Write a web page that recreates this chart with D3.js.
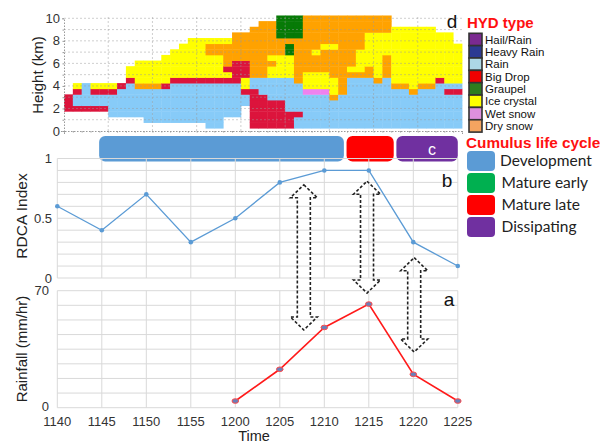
<!DOCTYPE html>
<html><head><meta charset="utf-8">
<script src="https://cdn.jsdelivr.net/npm/d3@7"></script>
<style>
body{margin:0;background:#fff;}
svg{display:block;font-family:"Liberation Sans",Arial,sans-serif;}
</style></head><body>
<svg id="chart" width="605" height="443"></svg>
<script>
// ---------------- data ----------------
const times = ["1140","1145","1150","1155","1200","1205","1210","1215","1220","1225"];
const rdcaIndex = [0.6, 0.4, 0.7, 0.3, 0.5, 0.8, 0.9, 0.9, 0.3, 0.1];
const rainTimes = ["1200","1205","1210","1215","1220","1225"];
const rainfall = [4, 23, 48, 62, 20, 4];
const heightTicks = [0, 2, 4, 6, 8, 10];
const rdcaTicks = [0, 0.5, 1];
const rainTicks = [0, 70];

// hydrometeor class of each 1-minute column, 0.5 km bins from 0 km (first char) to 10 km (last char)
// B rain, R big drop, Y ice crystal, O dry snow, G graupel, P wet snow, . none
const hydColumns = [
  "....RRR..............",
  "....RBBRY............",
  "....RBBBB............",
  "....RBBRY............",
  "....RBBRY............",
  "...BBBBRY............",
  "...BBBBBR............",
  "...BBBBBBRYY.........",
  "...BBBBBOYYYY........",
  "..BBBBBBOYYYY........",
  "..BBBBBBOYYYY........",
  "..BBBBBBRYYYYY.......",
  "..BBBBBBBRYYYYY......",
  "..BBBBBBBRYYYYYY.....",
  "..BBBBBBBRYYYYYYY....",
  "..BBBBBBBRYYYYYYY....",
  ".BBBBBBBBRYYYYOOY....",
  ".BBBBBBBBRYYYYOOY....",
  "...BBBBBBRYROOOOY....",
  "...BBBBBBRRRROOOOO...",
  ".....BBRYYRRROOOOO...",
  ".RRRRRRRBBOOOOOOOOO..",
  ".RRRRRRBBBOOOOOOOOOO.",
  ".RRRRRBBBBYYOYOOOOOO.",
  ".RRRRRBBBBYYYYOOOGGGG",
  ".RRRBBBBBBYYYYGGOGGGG",
  ".BBRBBBBBOOOOOOOOGGGG",
  ".BBBBBBPYYYOOOOOOOOOO",
  ".BBBBBBPYYYOOOYOOOOOO",
  ".BBBBBBPYYYOOOOYOOOOO",
  ".BBBBBOYYYOOOOOYOOOOO",
  ".BBBBBBOOOOOOOOOOOOOO",
  ".BBBBBBBBBOYOOOOOOOOO",
  ".BBBBBBBBBOYYYYOOOOOO",
  ".BBBBBBBBBOOYYYYYYOOO",
  ".BBBBBBBBOYYYYYYYYOOO",
  ".BBBBBBBBBOOOOYYYYOOO",
  ".BBBBBBBOYYYYYYYYYY..",
  ".BBBBBBBOYYYYYYYYYY..",
  ".BBBBBBOYYYYYYYYYYY..",
  ".BBBBBBBOYYYYYYYYYY..",
  ".BBBBBBBOYYYYYYYYYY..",
  ".BBBBBBBBRYYYYYYYY...",
  ".BBBBBBRBYYYYYYYYY...",
  ".BBBBBBRBYYYYYYY....."
];
const hydFill = {B:"#87CBF8", R:"#DC143C", Y:"#FFFF00", O:"#FFA200", G:"#067A06", P:"#EE82EE"};

const hydLegendNames = ["Hail/Rain","Heavy Rain","Rain","Big Drop","Graupel","Ice crystal","Wet snow","Dry snow"];
const hydLegendColors = ["#7B2A90","#2C3A92","#ADD8E6","#F00000","#2E7D1E","#FFFF00","#DD90DD","#F4A460"];

// life-cycle stages, minutes after 11:40
const stageNames = ["Development","Mature late","Dissipating"];
const stageStart = [4.7, 32.5, 38.1];
const stageEnd = [32.2, 37.8, 45.0];
const stageColors = ["#5B9BD5","#FF0000","#7030A0"];
const lifeLegendNames = ["Development","Mature early","Mature late","Dissipating"];
const lifeLegendColors = ["#5B9BD5","#00B050","#FF0000","#7030A0"];

// double arrows linking RDCA index and rainfall: minute, RDCA value at top, rainfall at bottom
const arrowMinute = [27.7, 34.8, 40.1];
const arrowTop = [0.78, 0.81, 0.17];
const arrowBottom = [46.5, 68.6, 33.3];

// ---------------- drawing ----------------
const svg = d3.select("#chart");

// panel d: hydrometeor cross-section
const nCols = hydColumns.length;
const xh = d3.scaleLinear().domain([0, nCols]).range([64, 462]);
const yh = d3.scaleLinear().domain([0, 10]).range([131, 18.3]);
const gd = svg.append("g");

hydColumns.forEach((col, c) => {
  col.split("").forEach((ch, k) => {
    if (ch === ".") return;
    const lo = Math.max(0, 0.5 * k - 0.25), hi = 0.5 * k + 0.25;
    gd.append("rect")
      .attr("x", xh(c)).attr("width", xh(c + 1) - xh(c) + 0.4)
      .attr("y", yh(hi)).attr("height", yh(lo) - yh(hi) + 0.4)
      .attr("fill", hydFill[ch]);
  });
});
// dotted grid over the cells
gd.selectAll(".hg").data(d3.range(1, 11)).join("line")
  .attr("x1", xh(0)).attr("x2", xh(nCols))
  .attr("y1", d => yh(d)).attr("y2", d => yh(d))
  .attr("stroke", "#9a9a9a").attr("stroke-opacity", 0.6).attr("stroke-width", 0.8)
  .attr("stroke-dasharray", "2,2");
gd.selectAll(".vg").data(d3.range(5, nCols, 5)).join("line")
  .attr("x1", d => xh(d)).attr("x2", d => xh(d))
  .attr("y1", yh(0)).attr("y2", yh(10.25))
  .attr("stroke", "#9a9a9a").attr("stroke-opacity", 0.6).attr("stroke-width", 0.8)
  .attr("stroke-dasharray", "2,2");
// axes of the cross-section
const yAxisD = d3.axisLeft(yh).tickValues(d3.range(0, 10.01, 1)).tickSize(3).tickFormat("");
gd.append("g").attr("transform", `translate(${xh(0)},0)`).call(yAxisD)
  .call(g => g.selectAll("line,path").attr("stroke", "#999").attr("stroke-dasharray", "1.5,1.5"));
const xAxisD = d3.axisBottom(xh).tickValues(d3.range(0, nCols + 1)).tickSize(3).tickFormat("");
gd.append("g").attr("transform", `translate(0,${yh(0)})`).call(xAxisD)
  .call(g => g.selectAll("line,path").attr("stroke", "#999").attr("stroke-dasharray", "1.5,1.5"));
gd.selectAll(".hl").data(heightTicks).join("text")
  .attr("x", 60).attr("y", d => yh(d) + 4.5).attr("text-anchor", "end")
  .attr("font-size", 13).attr("fill", "#333").text(d => d);
svg.append("text").attr("transform", "translate(43,75) rotate(-90)")
  .attr("text-anchor", "middle").attr("font-size", 15).attr("fill", "#222").text("Height (km)");
svg.append("text").attr("x", 452).attr("y", 27.5).attr("text-anchor", "middle")
  .attr("font-size", 19).attr("fill", "#111").text("d");

// HYD legend
svg.append("text").attr("x", 467).attr("y", 28).attr("font-size", 15).attr("font-weight", "bold")
  .attr("fill", "#FF1010").text("HYD type");
const legH = 12.35, legTop = 33.3;
const gl = svg.append("g");
gl.selectAll("rect").data(hydLegendNames).join("rect")
  .attr("x", 469).attr("y", (d, i) => legTop + i * legH).attr("width", 13).attr("height", legH)
  .attr("fill", (d, i) => hydLegendColors[i]).attr("stroke", "#333").attr("stroke-width", 1.6);
gl.selectAll("text").data(hydLegendNames).join("text")
  .attr("x", 485).attr("y", (d, i) => legTop + i * legH + legH / 2 + 4.2)
  .attr("font-size", 11.5).attr("fill", "#111").text(d => d);

// time scale shared by panels a, b, c
const xt = d3.scalePoint().domain(times).range([57.3, 457.8]);
const xm = d3.scaleLinear().domain([0, 45]).range([57.3, 457.8]);
const grid = "#D9D9D9";

// panel c: life-cycle bar
svg.append("g").selectAll("rect").data(stageNames).join("rect")
  .attr("x", (d, i) => xm(stageStart[i])).attr("width", (d, i) => xm(stageEnd[i]) - xm(stageStart[i]))
  .attr("y", 136).attr("height", 25.5).attr("rx", 6)
  .attr("fill", (d, i) => stageColors[i]);
svg.append("text").attr("x", 432).attr("y", 155).attr("text-anchor", "middle")
  .attr("font-size", 16).attr("fill", "#fff").text("c");

// life-cycle legend
svg.append("text").attr("x", 466).attr("y", 147.5).attr("font-size", 15.3).attr("font-weight", "bold")
  .attr("fill", "#FF1010").text("Cumulus life cycle");
const gll = svg.append("g");
gll.selectAll("rect").data(lifeLegendNames).join("rect")
  .attr("x", 467).attr("y", (d, i) => 151 + i * 22).attr("width", 28).attr("height", 20).attr("rx", 4)
  .attr("fill", (d, i) => lifeLegendColors[i]);
gll.selectAll("text").data(lifeLegendNames).join("text")
  .attr("x", (d, i) => i === 0 ? 500 : 501.5).attr("y", (d, i) => 151 + i * 22 + 15)
  .attr("font-family", "Lato, 'Liberation Sans', sans-serif")
  .attr("font-size", 15.5).attr("fill", "#222").text(d => d);

// panel b: RDCA index
const yb = d3.scaleLinear().domain([0, 1]).range([278, 158.5]);
const gb = svg.append("g");
gb.selectAll(".hg").data(d3.range(0, 11)).join("line")
  .attr("x1", xt(times[0])).attr("x2", xt(times[times.length - 1]))
  .attr("y1", d => yb(d / 10)).attr("y2", d => yb(d / 10))
  .attr("stroke", grid).attr("stroke-width", 1);
gb.selectAll(".vg").data(times).join("line")
  .attr("x1", d => xt(d)).attr("x2", d => xt(d))
  .attr("y1", yb(0)).attr("y2", yb(1))
  .attr("stroke", grid).attr("stroke-width", 1);
gb.append("path").datum(rdcaIndex)
  .attr("d", d3.line().x((d, i) => xt(times[i])).y(d => yb(d)))
  .attr("fill", "none").attr("stroke", "#5B9BD5").attr("stroke-width", 1.3);
gb.selectAll("circle").data(rdcaIndex).join("circle")
  .attr("cx", (d, i) => xt(times[i])).attr("cy", d => yb(d)).attr("r", 2.3)
  .attr("fill", "#5B9BD5");
gb.selectAll("text.t").data(rdcaTicks).join("text")
  .attr("x", 52).attr("y", d => yb(d) + 4.5).attr("text-anchor", "end")
  .attr("font-size", 13).attr("fill", "#333").text(d => d);
svg.append("text").attr("transform", "translate(27,216) rotate(-90)")
  .attr("text-anchor", "middle").attr("font-size", 15.5).attr("fill", "#222").text("RDCA Index");
svg.append("text").attr("x", 447).attr("y", 187).attr("text-anchor", "middle")
  .attr("font-size", 19).attr("fill", "#111").text("b");

// panel a: rainfall
const ya = d3.scaleLinear().domain([0, 70]).range([407.7, 290.7]);
const ga = svg.append("g");
ga.selectAll(".hg").data(d3.range(0, 9)).join("line")
  .attr("x1", xt(times[0])).attr("x2", xt(times[times.length - 1]))
  .attr("y1", d => ya(d * 70 / 8)).attr("y2", d => ya(d * 70 / 8))
  .attr("stroke", grid).attr("stroke-width", 1);
ga.selectAll(".vg").data(times).join("line")
  .attr("x1", d => xt(d)).attr("x2", d => xt(d))
  .attr("y1", ya(0)).attr("y2", ya(70))
  .attr("stroke", grid).attr("stroke-width", 1);
ga.append("path").datum(rainfall)
  .attr("d", d3.line().x((d, i) => xt(rainTimes[i])).y(d => ya(d)))
  .attr("fill", "none").attr("stroke", "#FF1A1A").attr("stroke-width", 1.6);
ga.selectAll("ellipse").data(rainfall).join("ellipse")
  .attr("cx", (d, i) => xt(rainTimes[i])).attr("cy", d => ya(d)).attr("rx", 3.3).attr("ry", 2.3)
  .attr("fill", "#6A7FB8").attr("stroke", "#FF4A4A").attr("stroke-width", 1);
ga.selectAll("text.t").data(rainTicks).join("text")
  .attr("x", 49).attr("y", d => ya(d) + (d === 0 ? 3.5 : 4.5)).attr("text-anchor", "end")
  .attr("font-size", 13).attr("fill", "#333").text(d => d);
ga.selectAll("text.x").data(times).join("text")
  .attr("x", d => xt(d)).attr("y", 425.5).attr("text-anchor", "middle")
  .attr("font-size", 13).attr("fill", "#333").text(d => d);
svg.append("text").attr("x", 254).attr("y", 440.5).attr("text-anchor", "middle")
  .attr("font-size", 14.5).attr("fill", "#222").text("Time");
svg.append("text").attr("transform", "translate(27,349) rotate(-90)")
  .attr("text-anchor", "middle").attr("font-size", 15).attr("fill", "#222").text("Rainfall (mm/hr)");
svg.append("text").attr("x", 449).attr("y", 306).attr("text-anchor", "middle")
  .attr("font-size", 19).attr("fill", "#111").text("a");

// dashed double arrows between panels b and a
function doubleArrow(cx, y1, y2) {
  const sw = 6.5, hw = 13.5, hl = 13;
  return `M${cx},${y1} L${cx + hw},${y1 + hl} L${cx + sw},${y1 + hl} L${cx + sw},${y2 - hl}` +
    ` L${cx + hw},${y2 - hl} L${cx},${y2} L${cx - hw},${y2 - hl} L${cx - sw},${y2 - hl}` +
    ` L${cx - sw},${y1 + hl} L${cx - hw},${y1 + hl} Z`;
}
svg.append("g").selectAll("path").data(arrowMinute).join("path")
  .attr("d", (d, i) => doubleArrow(xm(d), yb(arrowTop[i]), ya(arrowBottom[i])))
  .attr("fill", "none").attr("stroke", "#222").attr("stroke-width", 1.6)
  .attr("stroke-dasharray", "3,2");
</script>
</body></html>
